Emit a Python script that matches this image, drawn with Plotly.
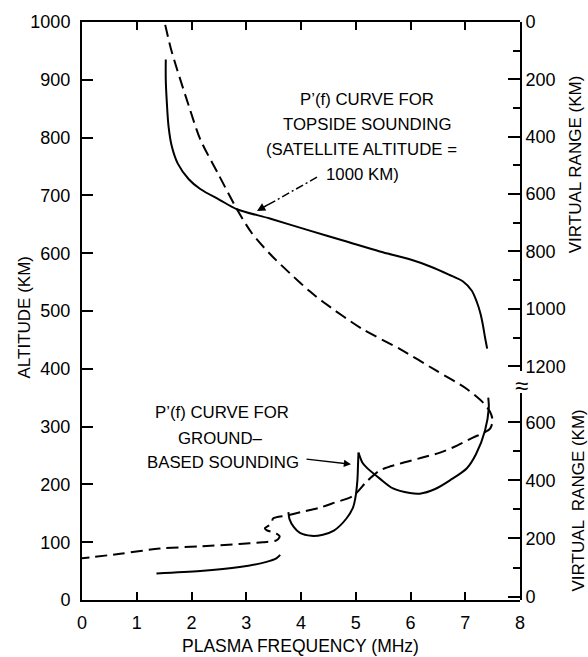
import plotly.graph_objects as go

# ---------------- data ----------------
# Topside P'(f) curve (solid, upper)
topside_freq = [1.53, 1.53, 1.55, 1.58, 1.64, 1.75, 1.95, 2.16, 2.52, 2.83, 3.43, 4.16, 4.80,
                5.44, 6.00, 6.36, 6.70, 6.96, 7.12, 7.21, 7.28, 7.32, 7.36, 7.40]
topside_alt = [935, 900, 860, 820, 785, 755, 728, 711, 692, 676, 660, 639, 621,
               603, 589, 577, 563, 551, 535, 516, 495, 477, 455, 435]

# Electron density profile (dashed)
profile_freq = [1.52, 1.62, 1.74, 1.95, 2.16, 2.50, 2.83, 3.10, 3.43, 3.80, 4.16, 4.40, 5.10, 5.81,
                6.45, 7.03, 7.33, 7.45, 7.50, 7.45, 7.33, 7.14, 6.85, 6.54, 6.20, 5.81, 5.44,
                5.20, 4.95, 4.60, 4.35, 4.00, 3.74, 3.49, 3.46, 3.34, 3.37, 3.55, 3.61, 3.55,
                3.30, 2.88, 2.20, 1.42, 0.70, 0.00]
profile_alt = [995, 955, 917, 855, 797, 735, 676, 635, 599, 565, 534, 516, 470, 434,
               398, 365, 341, 326, 310, 296, 289, 281, 267, 255, 246, 236, 224,
               205, 180, 168, 160, 152, 146, 141, 132, 124, 121, 115, 110, 103,
               100, 97, 93, 89, 80, 72]

# Ground-based P'(f) curve: E-layer trace (solid, lower)
ground_e_freq = [1.36, 2.16, 2.88, 3.37, 3.55, 3.62]
ground_e_alt = [46, 50, 57, 66, 72, 78]

# Ground-based P'(f) curve: F1 branch (up to the cusp)
ground_f1_freq = [3.77, 3.79, 3.87, 3.98, 4.19, 4.40, 4.60, 4.83, 4.95, 4.99, 5.03, 5.04, 5.05]
ground_f1_alt = [152, 140, 126, 116, 111, 113, 120, 141, 160, 175, 207, 230, 255]

# Ground-based P'(f) curve: F2 branch (from the cusp)
ground_f2_freq = [5.05, 5.12, 5.20, 5.44, 5.68, 5.99, 6.17, 6.45, 6.72, 7.03, 7.20, 7.36, 7.43, 7.42]
ground_f2_alt = [255, 238, 229, 210, 193, 185, 184, 192, 207, 228, 253, 293, 332, 350]

# axis ticks
x_ticks = [0, 1, 2, 3, 4, 5, 6, 7, 8]
alt_ticks = [0, 100, 200, 300, 400, 500, 600, 700, 800, 900, 1000]
top_range_ticks = [0, 200, 400, 600, 800, 1000, 1200]
top_range_minor = [100, 300, 500, 700, 900, 1100]
low_range_ticks = [0, 200, 400, 600]
low_range_minor = [100, 300, 500]

# ---------------- layout geometry (pixels) ----------------
W, H = 588, 657
PL, PR, PT, PB = 82, 520, 19, 600
FONT = "Liberation Sans, Arial, sans-serif"


def px_x(px):
    return (px - PL) / (PR - PL)


def px_y(py):
    return (PB - py) / (PB - PT)


def dx(px):
    return px_x(px) * 8


def dy(py):
    return px_y(py) * 1000


# right-hand virtual range scales
K_TOP = 0.4963      # altitude km per km of range (upper scale, reversed)
TOP_DOM0 = 0.396
K_LOW = 0.502
LOW_OFF = 6
LOW_DOM1 = 0.358

fig = go.Figure()

line_solid = dict(color="black", width=2, shape="spline", smoothing=0.8)
line_dash = dict(color="black", width=2, shape="spline", smoothing=0.8, dash="12px,6px")

fig.add_trace(go.Scatter(x=profile_freq, y=profile_alt, mode="lines", line=line_dash,
                         showlegend=False, hoverinfo="skip"))
fig.add_trace(go.Scatter(x=topside_freq, y=topside_alt, mode="lines", line=line_solid,
                         showlegend=False, hoverinfo="skip"))
fig.add_trace(go.Scatter(x=ground_e_freq, y=ground_e_alt, mode="lines", line=line_solid,
                         showlegend=False, hoverinfo="skip"))
fig.add_trace(go.Scatter(x=ground_f1_freq, y=ground_f1_alt, mode="lines", line=line_solid,
                         showlegend=False, hoverinfo="skip"))
fig.add_trace(go.Scatter(x=ground_f2_freq, y=ground_f2_alt, mode="lines", line=line_solid,
                         showlegend=False, hoverinfo="skip"))

# dummy traces so the right-hand axes are drawn
fig.add_trace(go.Scatter(x=[8], y=[0], xaxis="x", yaxis="y2", mode="markers",
                         marker=dict(opacity=0), showlegend=False, hoverinfo="skip"))
fig.add_trace(go.Scatter(x=[8], y=[0], xaxis="x", yaxis="y3", mode="markers",
                         marker=dict(opacity=0), showlegend=False, hoverinfo="skip"))

axis_common = dict(showline=True, linecolor="black", linewidth=2, ticks="inside",
                   tickcolor="black", tickwidth=1.5, showgrid=False, zeroline=False,
                   tickfont=dict(family=FONT, size=18, color="black"))

fig.update_layout(
    width=W, height=H,
    margin=dict(l=PL, r=W - PR, t=PT, b=H - PB),
    paper_bgcolor="white", plot_bgcolor="rgba(0,0,0,0)",
    font=dict(family=FONT, color="black"),
    xaxis=dict(range=[0, 8], tickvals=x_ticks, ticktext=[str(v) for v in x_ticks],
               ticklen=8, mirror="ticks", ticklabelstandoff=5, **axis_common),
    yaxis=dict(range=[0, 1000], tickvals=alt_ticks, ticktext=[str(v) for v in alt_ticks],
               ticklen=11, mirror=False, ticklabelstandoff=6, **axis_common),
    yaxis2=dict(domain=[TOP_DOM0, 1], anchor="x", side="right",
                range=[(1000 - TOP_DOM0 * 1000) / K_TOP, 0],
                tickvals=top_range_ticks, ticktext=[str(v) for v in top_range_ticks],
                ticklen=12,
                minor=dict(tickvals=top_range_minor, ticklen=7, ticks="inside",
                           tickcolor="black", tickwidth=1.5, showgrid=False),
                **axis_common),
    yaxis3=dict(domain=[0, LOW_DOM1], anchor="x", side="right",
                range=[-LOW_OFF / K_LOW, (LOW_DOM1 * 1000 - LOW_OFF) / K_LOW],
                tickvals=low_range_ticks, ticktext=[str(v) for v in low_range_ticks],
                ticklen=12,
                minor=dict(tickvals=low_range_minor, ticklen=7, ticks="inside",
                           tickcolor="black", tickwidth=1.5, showgrid=False),
                **axis_common),
)

ann = []
TXT = dict(family=FONT, size=16.8, color="black")


def label(text, px, py, angle=0, size=None):
    f = dict(TXT)
    if size:
        f["size"] = size
    ann.append(dict(text=text, x=px_x(px), y=px_y(py), xref="paper", yref="paper",
                    showarrow=False, textangle=angle, font=f,
                    xanchor="center", yanchor="middle"))


# text blocks
label("P\u2019(f) CURVE FOR", 367, 97)
label("TOPSIDE SOUNDING", 367, 122)
label("(SATELLITE ALTITUDE =", 361, 147)
label("1000 KM)", 362, 172)
label("P\u2019(f) CURVE FOR", 222, 412)
label("GROUND\u2013", 220, 438)
label("BASED SOUNDING", 223, 462)

# axis titles
label("PLASMA FREQUENCY (MHz)", 300, 646, size=17.5)
label("ALTITUDE (KM)", 24, 316, angle=-90, size=17)
label("VIRTUAL RANGE (KM)", 575, 162, angle=-90, size=17)
label("VIRTUAL  RANGE (KM)", 579, 500, angle=-90, size=17)
label("\u2248", 521, 384, size=24)

# topside arrow: dash-dot shaft + head
tip_t = (257, 209)
tail_t = (317, 175)
fig.add_shape(type="line", xref="x", yref="y",
              x0=dx(tail_t[0]), y0=dy(tail_t[1]), x1=dx(tip_t[0] + 8), y1=dy(tip_t[1] - 4.5),
              line=dict(color="black", width=1.5, dash="8px,3px,2px,3px"))
ann.append(dict(x=dx(tip_t[0]), y=dy(tip_t[1]), xref="x", yref="y", text="",
                showarrow=True, arrowhead=2, arrowsize=1.1, arrowwidth=1.5, arrowcolor="black",
                ax=13, ay=-7.5))

# ground arrow
tip_g = (351, 463.5)
tail_g = (305, 458.3)
ann.append(dict(x=dx(tip_g[0]), y=dy(tip_g[1]), xref="x", yref="y", text="",
                showarrow=True, arrowhead=2, arrowsize=1.1, arrowwidth=1.3, arrowcolor="black",
                ax=tail_g[0] - tip_g[0], ay=tail_g[1] - tip_g[1]))

fig.update_layout(annotations=ann)

fig.write_html("out.html")
